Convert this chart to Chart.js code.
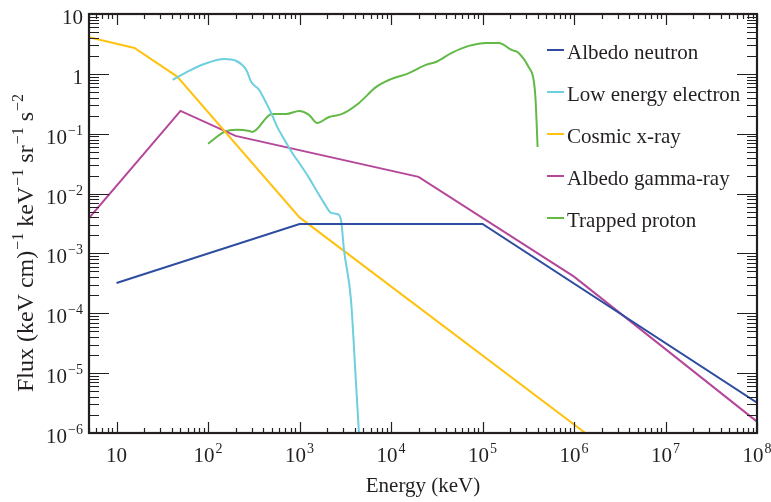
<!DOCTYPE html>
<html>
<head>
<meta charset="utf-8">
<script src="https://cdn.jsdelivr.net/npm/chart.js@4.4.1/dist/chart.umd.min.js"></script>
<style>
html, body { margin: 0; padding: 0; background: #fff; }
</style>
</head>
<body>
<canvas id="myChart" width="771" height="502"></canvas>
<script>
// energies in keV, flux in (keV cm)^-1 keV^-1 sr^-1 s^-2
const neutronE = [10, 1000, 1e5, 1e8];
const neutronFlux = [3.2e-4, 3.1e-3, 3.1e-3, 3.2e-6];

const electronE = [41, 62, 91, 151, 204, 262, 297, 362, 411, 490, 570, 646, 830, 990,
    1270, 1520, 1850, 2210, 2570, 2840, 3060, 3650, 4140, 4500];
const electronFlux = [0.79, 1.12, 1.46, 1.77, 1.64, 1.16, 0.73, 0.54, 0.38, 0.222, 0.13, 0.092, 0.048, 0.0326,
    0.0183, 0.0115, 0.0070, 0.00476, 0.00458, 0.00364, 0.00115, 1.68e-4, 6.9e-6, 8e-7];

const xrayE = [5, 15.7, 46, 1000, 1.33e6];
const xrayFlux = [4.1, 2.7, 0.9, 4e-3, 1e-6];

const gammaE = [5, 50, 200, 2e4, 1e6, 1e8];
const gammaFlux = [3.9e-3, 0.24, 0.092, 0.019, 4.1e-4, 1.55e-6];

const protonE = [100, 151, 204, 282, 304, 501, 714, 990, 1270, 1556, 2100, 2920, 4470, 6840, 9480,
    15700, 24000, 30900, 46100, 70800, 111000, 150000, 208000, 248000, 319000, 362000, 380000, 400000];
const protonFlux = [0.068, 0.107, 0.116, 0.111, 0.107, 0.214, 0.214, 0.24, 0.206, 0.151, 0.19, 0.214, 0.327, 0.60, 0.79,
    1.03, 1.41, 1.58, 2.24, 2.93, 3.28, 3.28, 2.51, 2.23, 1.30, 0.79, 0.37, 0.060];

const seriesNames = ['Albedo neutron', 'Low energy electron', 'Cosmic x-ray', 'Albedo gamma-ray', 'Trapped proton'];
const seriesColors = ['#2e4da0', '#6dcfdf', '#ffc20e', '#b5479b', '#62b946'];

const xTickExps = [1, 2, 3, 4, 5, 6, 7, 8];
const yTickExps = [-6, -5, -4, -3, -2, -1, 0, 1];

const ink = '#231f20';
const serif = "'Liberation Serif', 'Times New Roman', serif";

function pts(xs, ys) {
    return xs.map((x, i) => ({x: x, y: ys[i]}));
}

const series = [
    pts(neutronE, neutronFlux),
    pts(electronE, electronFlux),
    pts(xrayE, xrayFlux),
    pts(gammaE, gammaFlux),
    pts(protonE, protonFlux)
];

// draws "10" with a superscript exponent; align = 'center' | 'right'
function drawPow(ctx, base, exp, x, y, align) {
    ctx.font = '21px ' + serif;
    const wb = ctx.measureText(base).width;
    ctx.font = '14px ' + serif;
    const we = exp ? ctx.measureText(exp).width + 1 : 0;
    const w = wb + we;
    let x0 = align === 'right' ? x - w : x - w / 2;
    ctx.textAlign = 'left';
    ctx.textBaseline = 'alphabetic';
    ctx.font = '21px ' + serif;
    ctx.fillText(base, x0, y);
    if (exp) {
        ctx.font = '14px ' + serif;
        ctx.fillText(exp, x0 + wb + 1, y - 9);
    }
}

function expText(n) {
    return n < 0 ? '\u2212' + Math.abs(n) : String(n);
}

const axesPlugin = {
    id: 'axesPlugin',
    afterDatasetsDraw(chart) {
        const {ctx, chartArea: a} = chart;
        const xs = chart.scales.x, ys = chart.scales.y;
        ctx.save();
        ctx.strokeStyle = ink;
        ctx.fillStyle = ink;
        ctx.lineWidth = 1.2;
        ctx.beginPath();
        // x ticks, bottom and top
        for (let e = 0; e <= 8; e++) {
            for (let k = 1; k <= 9; k++) {
                const v = k * Math.pow(10, e);
                if (v < xs.min || v > xs.max) continue;
                const px = Math.round(xs.getPixelForValue(v)) + 0.5;
                const len = k === 1 ? 11 : 5;
                ctx.moveTo(px, a.bottom); ctx.lineTo(px, a.bottom - len);
                ctx.moveTo(px, a.top); ctx.lineTo(px, a.top + len);
            }
        }
        // y ticks, left and right
        for (let e = -6; e <= 1; e++) {
            for (let k = 1; k <= 9; k++) {
                const v = k * Math.pow(10, e);
                if (v < ys.min || v > ys.max * 1.0001) continue;
                const py = Math.round(ys.getPixelForValue(v)) + 0.5;
                const len = k === 1 ? 20 : 10;
                ctx.moveTo(a.left, py); ctx.lineTo(a.left + len, py);
                ctx.moveTo(a.right, py); ctx.lineTo(a.right - len, py);
            }
        }
        ctx.stroke();

        ctx.lineWidth = 2.2;
        ctx.strokeRect(a.left, a.top, a.right - a.left, a.bottom - a.top);

        // tick labels
        xTickExps.forEach(n => {
            const px = xs.getPixelForValue(Math.pow(10, n));
            drawPow(ctx, '10', n === 1 ? '' : expText(n), px, 462, 'center');
        });
        yTickExps.forEach(n => {
            const py = ys.getPixelForValue(Math.pow(10, n));
            if (n === 0) drawPow(ctx, '1', '', 83, py + 10, 'right');
            else drawPow(ctx, '10', n === 1 ? '' : expText(n), 83, py + 10, 'right');
        });

        // x title
        ctx.font = '21px ' + serif;
        ctx.textAlign = 'center';
        ctx.textBaseline = 'alphabetic';
        ctx.fillText('Energy (keV)', (a.left + a.right) / 2, 492);

        // y title, rotated, with superscripts
        const parts = [['Flux (keV cm)', false], ['\u22121', true], [' keV', false], ['\u22121', true],
            [' sr', false], ['\u22121', true], [' s', false], ['\u22122', true]];
        const bigFont = '24px ' + serif, supFont = '16px ' + serif;
        let total = 0;
        parts.forEach(p => {
            ctx.font = p[1] ? supFont : bigFont;
            total += ctx.measureText(p[0]).width + (p[1] ? 1 : 0);
        });
        ctx.translate(33, 243);
        ctx.rotate(-Math.PI / 2);
        ctx.textAlign = 'left';
        let u = -total / 2;
        parts.forEach(p => {
            ctx.font = p[1] ? supFont : bigFont;
            ctx.fillText(p[0], u + (p[1] ? 1 : 0), p[1] ? -10 : 0);
            u += ctx.measureText(p[0]).width + (p[1] ? 1 : 0);
        });
        ctx.restore();

        // legend
        ctx.save();
        ctx.font = '21px ' + serif;
        ctx.textAlign = 'left';
        ctx.textBaseline = 'alphabetic';
        chart.data.datasets.forEach((ds, i) => {
            const ly = 50 + i * 42;
            ctx.strokeStyle = ds.borderColor;
            ctx.lineWidth = 2;
            ctx.beginPath();
            ctx.moveTo(547, ly); ctx.lineTo(564, ly);
            ctx.stroke();
            ctx.fillStyle = ink;
            ctx.fillText(ds.label, 567, ly + 9);
        });
        ctx.restore();
    }
};

const config = {
    type: 'line',
    data: {
        datasets: series.map((d, i) => ({
            label: seriesNames[i],
            data: d,
            borderColor: seriesColors[i],
            backgroundColor: seriesColors[i],
            borderWidth: 2,
            pointRadius: 0,
            fill: false,
            cubicInterpolationMode: (i === 1 || i === 4) ? 'monotone' : 'default',
            tension: 0
        }))
    },
    options: {
        responsive: false,
        animation: false,
        layout: {padding: {top: 14, right: 14, left: 0, bottom: 0}},
        plugins: {legend: {display: false}, tooltip: {enabled: false}},
        scales: {
            x: {
                type: 'logarithmic',
                min: 5,
                max: 1e8,
                grid: {display: false},
                border: {display: false},
                ticks: {display: false},
                afterFit(scale) { scale.height = 69; }
            },
            y: {
                type: 'logarithmic',
                min: 1e-6,
                max: 10,
                grid: {display: false},
                border: {display: false},
                ticks: {display: false},
                afterFit(scale) { scale.width = 89; }
            }
        }
    },
    plugins: [axesPlugin]
};

new Chart(document.getElementById('myChart'), config);
</script>
</body>
</html>
